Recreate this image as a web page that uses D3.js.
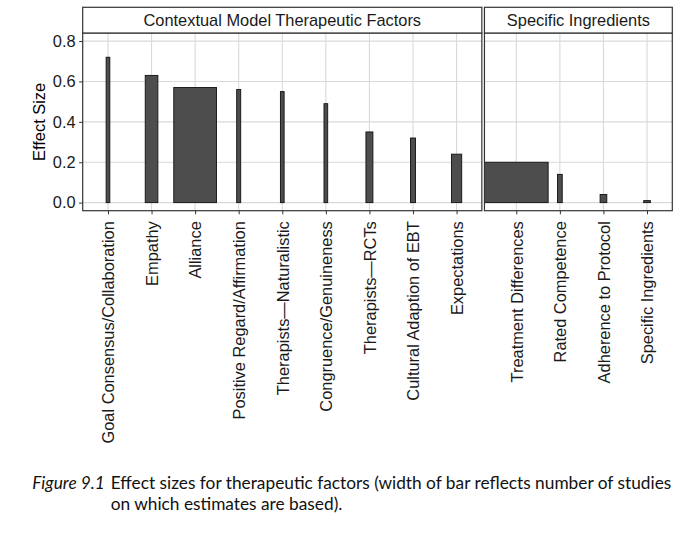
<!DOCTYPE html>
<html>
<head>
<meta charset="utf-8">
<script src="https://cdn.jsdelivr.net/npm/d3@7"></script>
<style>
  html, body { margin: 0; padding: 0; background: #fff; }
  svg { display: block; }
</style>
</head>
<body>
<svg id="chart" width="680" height="538"></svg>
<script>
// ---------------- DATA ----------------
const panelTitles = ["Contextual Model Therapeutic Factors", "Specific Ingredients"];

const contextualFactors = [
  "Goal Consensus/Collaboration", "Empathy", "Alliance", "Positive Regard/Affirmation",
  "Therapists\u2014Naturalistic", "Congruence/Genuineness", "Therapists\u2014RCTs",
  "Cultural Adaption of EBT", "Expectations"
];
const contextualEffects = [0.72, 0.63, 0.57, 0.56, 0.55, 0.49, 0.35, 0.32, 0.24];
// relative bar width (reflects number of studies), in category units
const contextualWidths = [0.085, 0.29, 0.98, 0.092, 0.085, 0.085, 0.16, 0.115, 0.236];

const specificFactors = [
  "Treatment Differences", "Rated Competence", "Adherence to Protocol", "Specific Ingredients"
];
const specificEffects = [0.20, 0.14, 0.04, 0.01];
const specificWidths = [1.462, 0.108, 0.154, 0.154];

const yTickValues = [0.0, 0.2, 0.4, 0.6, 0.8];
const yLimits = [0, 0.8];
const yTitle = "Effect Size";

const captionLabel = "Figure 9.1";
const captionLines = [
  "Effect sizes for therapeutic factors (width of bar reflects number of studies",
  "on which estimates are based)."
];

// ---------------- LAYOUT ----------------
const svg = d3.select("#chart");
const plotLeft = 82.7, plotRight = 672.3, panelGap = 2.6;
const stripTop = 7.3, panelTop = 33, panelBottom = 210.7;
const expand = 0.58;
const font = "'Liberation Sans', Arial, Helvetica, sans-serif";
const fs = 16.4;

const panels = [
  { title: panelTitles[0], cats: contextualFactors, vals: contextualEffects, widths: contextualWidths },
  { title: panelTitles[1], cats: specificFactors, vals: specificEffects, widths: specificWidths }
];
panels.forEach(p => {
  const n = p.cats.length;
  p.lo = Math.min(1 - expand, d3.min(p.widths, (w, i) => i + 1 - w / 2));
  p.hi = Math.max(n + expand, d3.max(p.widths, (w, i) => i + 1 + w / 2));
  p.units = p.hi - p.lo;
});
const totalUnits = d3.sum(panels, p => p.units);
const pxPerUnit = (plotRight - plotLeft - panelGap * (panels.length - 1)) / totalUnits;
let cursor = plotLeft;
panels.forEach(p => {
  p.x0 = cursor;
  p.x1 = cursor + p.units * pxPerUnit;
  p.x = d3.scaleLinear().domain([p.lo, p.hi]).range([p.x0, p.x1]);
  cursor = p.x1 + panelGap;
});

const yPad = (yLimits[1] - yLimits[0]) * 0.05;
const y = d3.scaleLinear().domain([yLimits[0] - yPad, yLimits[1] + yPad]).range([panelBottom, panelTop]);

const gridColor = "#d9d9d9";
const borderColor = "#333333";

panels.forEach((p, pi) => {
  const g = svg.append("g");
  g.append("rect").attr("x", p.x0).attr("y", panelTop)
    .attr("width", p.x1 - p.x0).attr("height", panelBottom - panelTop)
    .attr("fill", "#fff");
  g.selectAll("line.hg").data(yTickValues).join("line")
    .attr("x1", p.x0).attr("x2", p.x1)
    .attr("y1", d => y(d)).attr("y2", d => y(d))
    .attr("stroke", gridColor).attr("stroke-width", 1.1);
  g.selectAll("line.vg").data(p.cats.map((c, i) => i + 1)).join("line")
    .attr("x1", d => p.x(d)).attr("x2", d => p.x(d))
    .attr("y1", panelTop).attr("y2", panelBottom)
    .attr("stroke", gridColor).attr("stroke-width", 1.1);
  g.selectAll("rect.bar").data(p.vals.map((v, i) => ({ v, i, w: p.widths[i] }))).join("rect")
    .attr("class", "bar")
    .attr("x", d => p.x(d.i + 1 - d.w / 2))
    .attr("width", d => p.x(d.i + 1 + d.w / 2) - p.x(d.i + 1 - d.w / 2))
    .attr("y", d => y(d.v))
    .attr("height", d => y(0) - y(d.v))
    .attr("fill", "#4d4d4d").attr("stroke", "#111").attr("stroke-width", 0.9);
  g.append("rect").attr("x", p.x0).attr("y", panelTop)
    .attr("width", p.x1 - p.x0).attr("height", panelBottom - panelTop)
    .attr("fill", "none").attr("stroke", borderColor).attr("stroke-width", 1.2);
  g.append("rect").attr("x", p.x0).attr("y", stripTop)
    .attr("width", p.x1 - p.x0).attr("height", panelTop - stripTop)
    .attr("fill", "#fff").attr("stroke", borderColor).attr("stroke-width", 1.2);
  g.append("text").attr("x", (p.x0 + p.x1) / 2).attr("y", (stripTop + panelTop) / 2)
    .attr("dy", "0.35em").attr("text-anchor", "middle")
    .attr("font-family", font).attr("font-size", fs).attr("fill", "#1a1a1a")
    .text(p.title);

  const xAxis = d3.axisBottom(p.x)
    .tickValues(p.cats.map((c, i) => i + 1))
    .tickFormat(d => p.cats[d - 1])
    .tickSize(3.6).tickPadding(0);
  const ax = svg.append("g").attr("transform", `translate(0,${panelBottom})`).call(xAxis);
  ax.attr("font-family", null).attr("font-size", null);
  ax.select(".domain").remove();
  ax.selectAll(".tick line").attr("stroke", borderColor).attr("stroke-width", 1);
  ax.selectAll(".tick text")
    .attr("font-family", font).attr("font-size", fs).attr("fill", "#1a1a1a")
    .attr("transform", "translate(0,10.5) rotate(-90)")
    .attr("text-anchor", "end")
    .attr("x", 0).attr("y", 0).attr("dy", "0.35em");
});

const yAxis = d3.axisLeft(y).tickValues(yTickValues).tickFormat(d3.format(".1f"))
  .tickSize(3.6).tickPadding(3.5);
const ay = svg.append("g").attr("transform", `translate(${plotLeft},0)`).call(yAxis);
ay.attr("font-family", null).attr("font-size", null);
ay.select(".domain").remove();
ay.selectAll(".tick line").attr("stroke", borderColor);
ay.selectAll(".tick text").attr("font-family", font).attr("font-size", fs).attr("fill", "#1a1a1a");

svg.append("text")
  .attr("transform", `translate(39.5,${(panelTop + panelBottom) / 2}) rotate(-90)`)
  .attr("text-anchor", "middle").attr("dy", "0.35em")
  .attr("font-family", font).attr("font-size", fs).attr("fill", "#000")
  .text(yTitle);

const capFont = "Lato, 'Open Sans', sans-serif";
const capSize = 17.3;
svg.append("text").attr("x", 32.3).attr("y", 489)
  .attr("font-family", capFont).attr("font-style", "italic").attr("font-size", capSize).attr("fill", "#111")
  .text(captionLabel);
captionLines.forEach((line, i) => {
  svg.append("text").attr("x", 110.7).attr("y", 489 + i * 21)
    .attr("font-family", capFont).attr("font-size", capSize).attr("fill", "#111")
    .text(line);
});
</script>
</body>
</html>
